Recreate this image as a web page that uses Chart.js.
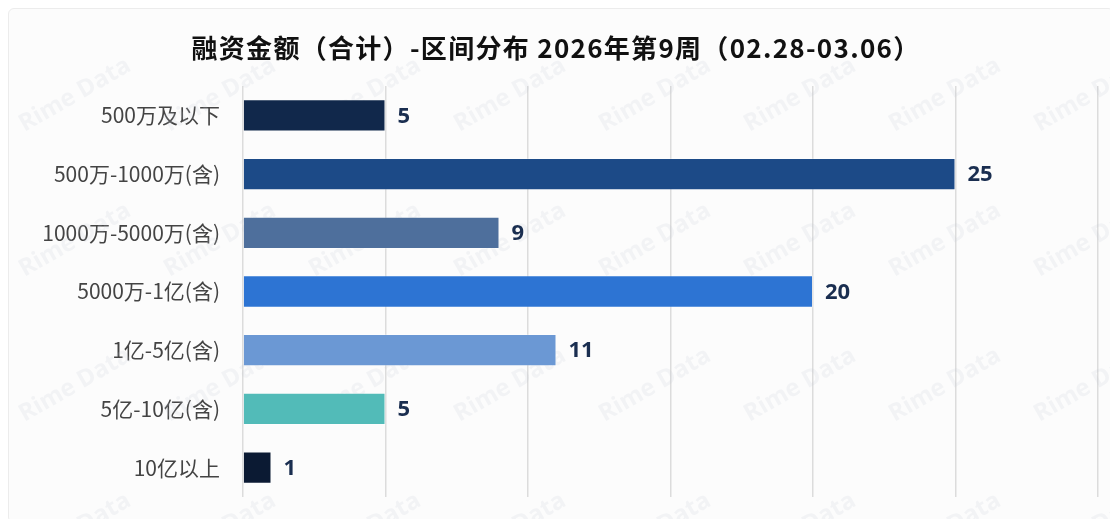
<!DOCTYPE html>
<html>
<head>
<meta charset="utf-8">
<script src="https://cdn.jsdelivr.net/npm/chart.js@4/dist/chart.umd.min.js"></script>
<style>
    html, body { margin: 0; padding: 0; background: #ffffff; }
    #wrap { position: relative; width: 1110px; height: 519px; }
    #frame { position: absolute; left: 8px; top: 8px; right: -4px; bottom: -4px; border: 1px solid #ececec; border-radius: 6px; background: #fcfcfc; }
    canvas { position: absolute; left: 0; top: 0; }
</style>
</head>
<body>
<div id="wrap">
    <div id="frame"></div>
    <canvas id="c" width="1110" height="519"></canvas>
</div>
<script>
const titleText = '融资金额（合计）-区间分布 2026年第9周（02.28-03.06）';
const categories = ['500万及以下', '500万-1000万(含)', '1000万-5000万(含)', '5000万-1亿(含)', '1亿-5亿(含)', '5亿-10亿(含)', '10亿以上'];
const counts = [5, 25, 9, 20, 11, 5, 1];
const barColors = ['#11284b', '#1c4a87', '#4e6f9c', '#2d74d3', '#6b98d4', '#52bbb8', '#0b1a33'];
const xMax = 30;

// faint "Rime Data" watermark tiles behind the bars
const watermark = {
    id: 'watermark',
    beforeDatasetsDraw(chart) {
        const ctx = chart.ctx;
        ctx.save();
        ctx.font = 'bold 24px "Open Sans", sans-serif';
        ctx.fillStyle = 'rgba(190, 198, 212, 0.16)';
        ctx.textAlign = 'center';
        ctx.textBaseline = 'middle';
        for (let row = 0; row < 5; row++) {
            for (let col = 0; col < 9; col++) {
                const x = 75 + col * 145;
                const y = 95 + row * 145;
                ctx.save();
                ctx.translate(x, y);
                ctx.rotate(-Math.PI / 6);
                ctx.fillText('Rime Data', 0, 0);
                ctx.restore();
            }
        }
        ctx.restore();
    }
};

// title drawn by hand so it can get a little letter spacing
const chartTitle = {
    id: 'chartTitle',
    afterDraw(chart) {
        const ctx = chart.ctx;
        ctx.save();
        ctx.font = 'bold 26px "Noto Sans CJK SC", sans-serif';
        ctx.fillStyle = '#111111';
        ctx.textAlign = 'center';
        ctx.textBaseline = 'middle';
        if ('letterSpacing' in ctx) ctx.letterSpacing = '1.3px';
        ctx.fillText(titleText, 556, 48);
        ctx.restore();
    }
};

// value labels at the end of each bar
const valueLabels = {
    id: 'valueLabels',
    afterDatasetsDraw(chart) {
        const ctx = chart.ctx;
        const meta = chart.getDatasetMeta(0);
        ctx.save();
        ctx.font = 'bold 22px "Open Sans", sans-serif';
        ctx.fillStyle = '#1a2e50';
        ctx.textAlign = 'left';
        ctx.textBaseline = 'middle';
        meta.data.forEach((bar, i) => {
            ctx.fillText(String(counts[i]), bar.x + 12, bar.y + 1);
        });
        ctx.restore();
    }
};

new Chart(document.getElementById('c'), {
    type: 'bar',
    data: {
        labels: categories,
        datasets: [{
            data: counts,
            backgroundColor: barColors,
            borderColor: 'rgba(255,255,255,0.25)',
            borderWidth: 1,
            barPercentage: 0.55,
            categoryPercentage: 1
        }]
    },
    options: {
        indexAxis: 'y',
        responsive: false,
        animation: false,
        layout: { padding: { left: 0, right: 12, top: 86, bottom: 22 } },
        plugins: {
            legend: { display: false },
            tooltip: { enabled: false },
            title: { display: false }
        },
        scales: {
            x: {
                min: 0,
                max: xMax,
                afterFit(scale) { scale.height = 0; },
                ticks: { display: false, stepSize: 5 },
                border: { display: false },
                grid: { color: '#dcdcdc', lineWidth: 1.5, drawTicks: false }
            },
            y: {
                afterFit(scale) {
                    scale.width = 243;
                    scale.paddingTop = 0;
                    scale.paddingBottom = 0;
                },
                grid: { display: false },
                border: { display: false },
                ticks: {
                    color: '#444444',
                    padding: 15,
                    font: { family: '"Noto Sans CJK SC", sans-serif', size: 21 }
                }
            }
        }
    },
    plugins: [watermark, valueLabels, chartTitle]
});
</script>
</body>
</html>
